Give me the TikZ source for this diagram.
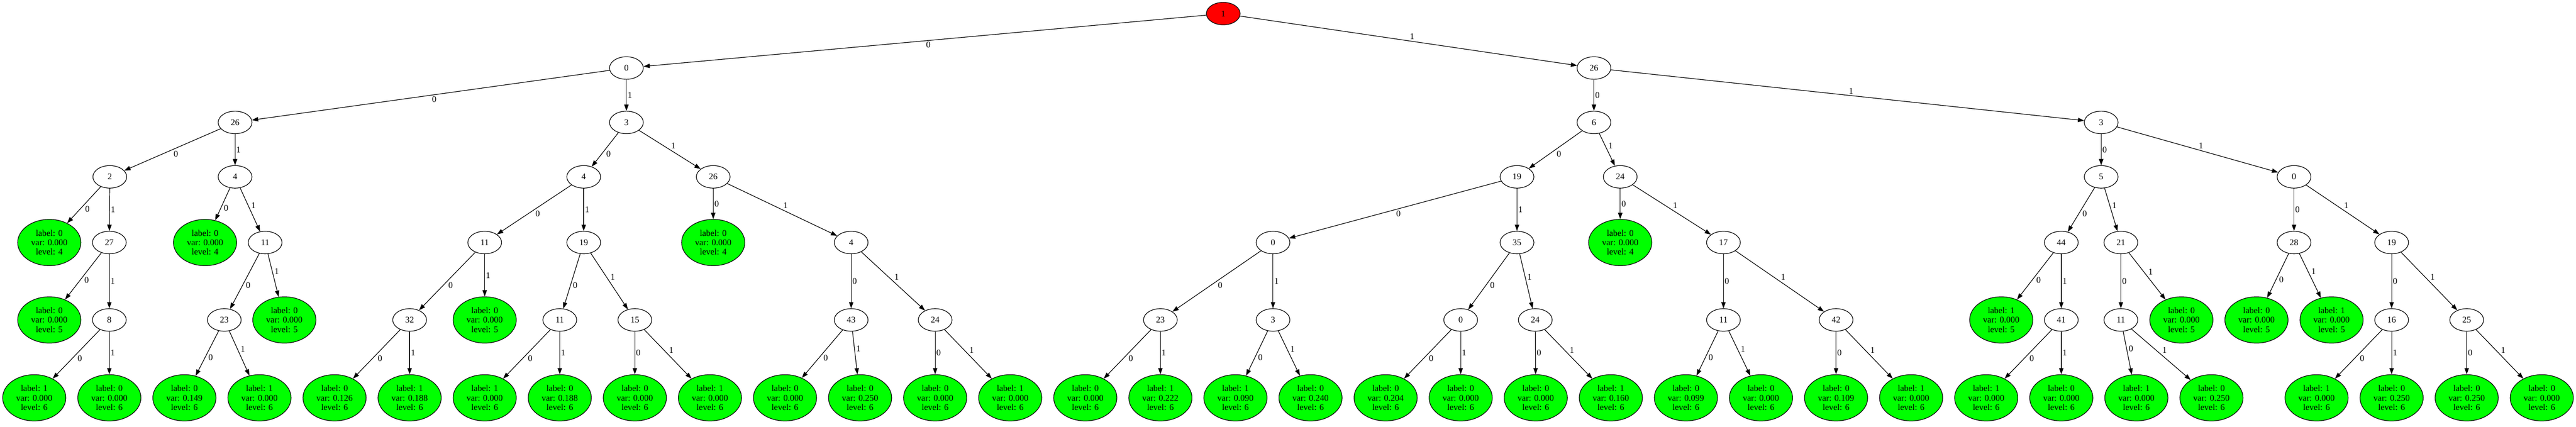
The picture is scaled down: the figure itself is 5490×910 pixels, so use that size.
\documentclass[tikz,border=0pt]{standalone}
\usepackage{fontspec}
\setmainfont{Liberation Serif}
\usetikzlibrary{shapes.geometric,arrows.meta}

\definecolor{leafgreen}{RGB}{0,255,0}
\definecolor{rootred}{RGB}{255,0,0}
\newcommand{\treefont}{\fontsize{14}{15}\selectfont}

\tikzset{
  split/.style={ellipse, draw, line width=1pt, fill=white, minimum width=54pt, minimum height=36pt, inner sep=0pt, font=\treefont},
  rootnode/.style={split, fill=rootred},
  leaf/.style={ellipse, draw, line width=1pt, fill=leafgreen, minimum width=101pt, minimum height=74pt, inner sep=0pt, align=center, font=\treefont},
  edge/.style={-{Triangle[length=10pt,width=7pt]}, line width=1pt},
  bit/.style={auto, inner sep=1.5pt, font=\treefont}
}

\begin{document}
\begin{tikzpicture}[x=0.75pt, y=-0.75pt]
  \useasboundingbox (0,0) rectangle (5490,910);

  % Root and upper splits
  \node[rootnode] (n) at (2607,29) {1};
  \node[split] (n0) at (1335,145) {0};
  \node[split] (n1) at (3397,145) {26};
  \node[split] (n00) at (501,261) {26};
  \node[split] (n01) at (1335,261) {3};
  \node[split] (n10) at (3397,261) {6};
  \node[split] (n11) at (4478,261) {3};

  % Rank 3
  \node[split] (n000) at (234,377) {2};
  \node[split] (n001) at (501,377) {4};
  \node[split] (n010) at (1244,377) {4};
  \node[split] (n011) at (1520,377) {26};
  \node[split] (n100) at (3233,377) {19};
  \node[split] (n101) at (3453,377) {24};
  \node[split] (n110) at (4478,377) {5};
  \node[split] (n111) at (4889,377) {0};

  % Rank 4
  \node[leaf] (n0000) at (105,517) {label: 0\\var: 0.000\\level: 4};
  \node[split] (n0001) at (233,517) {27};
  \node[leaf] (n0010) at (437,517) {label: 0\\var: 0.000\\level: 4};
  \node[split] (n0011) at (565,517) {11};
  \node[split] (n0100) at (1033,517) {11};
  \node[split] (n0101) at (1244,517) {19};
  \node[leaf] (n0110) at (1520,517) {label: 0\\var: 0.000\\level: 4};
  \node[split] (n0111) at (1814,517) {4};
  \node[split] (n1000) at (2713,517) {0};
  \node[split] (n1001) at (3233,517) {35};
  \node[leaf] (n1010) at (3453,517) {label: 0\\var: 0.000\\level: 4};
  \node[split] (n1011) at (3673,517) {17};
  \node[split] (n1100) at (4393,517) {44};
  \node[split] (n1101) at (4520,517) {21};
  \node[split] (n1110) at (4889,517) {28};
  \node[split] (n1111) at (5097,517) {19};

  % Rank 5
  \node[leaf] (n00010) at (105,682) {label: 0\\var: 0.000\\level: 5};
  \node[split] (n00011) at (233,682) {8};
  \node[split] (n00110) at (478,682) {23};
  \node[leaf] (n00111) at (606,682) {label: 0\\var: 0.000\\level: 5};
  \node[split] (n01000) at (873,682) {32};
  \node[leaf] (n01001) at (1033,682) {label: 0\\var: 0.000\\level: 5};
  \node[split] (n01010) at (1193,682) {11};
  \node[split] (n01011) at (1353,682) {15};
  \node[split] (n01110) at (1814,682) {43};
  \node[split] (n01111) at (1993,682) {24};
  \node[split] (n10000) at (2473,682) {23};
  \node[split] (n10001) at (2713,682) {3};
  \node[split] (n10010) at (3113,682) {0};
  \node[split] (n10011) at (3272,682) {24};
  \node[split] (n10110) at (3673,682) {11};
  \node[split] (n10111) at (3913,682) {42};
  \node[leaf] (n11000) at (4265,682) {label: 1\\var: 0.000\\level: 5};
  \node[split] (n11001) at (4393,682) {41};
  \node[split] (n11010) at (4520,682) {11};
  \node[leaf] (n11011) at (4649,682) {label: 0\\var: 0.000\\level: 5};
  \node[leaf] (n11100) at (4809,682) {label: 0\\var: 0.000\\level: 5};
  \node[leaf] (n11101) at (4969,682) {label: 1\\var: 0.000\\level: 5};
  \node[split] (n11110) at (5097,682) {16};
  \node[split] (n11111) at (5257,682) {25};

  % Rank 6 leaves
  \node[leaf] (n000110) at (73,848) {label: 1\\var: 0.000\\level: 6};
  \node[leaf] (n000111) at (233,848) {label: 0\\var: 0.000\\level: 6};
  \node[leaf] (n001100) at (393,848) {label: 0\\var: 0.149\\level: 6};
  \node[leaf] (n001101) at (553,848) {label: 1\\var: 0.000\\level: 6};
  \node[leaf] (n010000) at (713,848) {label: 0\\var: 0.126\\level: 6};
  \node[leaf] (n010001) at (873,848) {label: 1\\var: 0.188\\level: 6};
  \node[leaf] (n010100) at (1033,848) {label: 1\\var: 0.000\\level: 6};
  \node[leaf] (n010101) at (1193,848) {label: 0\\var: 0.188\\level: 6};
  \node[leaf] (n010110) at (1353,848) {label: 0\\var: 0.000\\level: 6};
  \node[leaf] (n010111) at (1513,848) {label: 1\\var: 0.000\\level: 6};
  \node[leaf] (n011100) at (1673,848) {label: 0\\var: 0.000\\level: 6};
  \node[leaf] (n011101) at (1833,848) {label: 0\\var: 0.250\\level: 6};
  \node[leaf] (n011110) at (1993,848) {label: 0\\var: 0.000\\level: 6};
  \node[leaf] (n011111) at (2153,848) {label: 1\\var: 0.000\\level: 6};
  \node[leaf] (n100000) at (2313,848) {label: 0\\var: 0.000\\level: 6};
  \node[leaf] (n100001) at (2473,848) {label: 1\\var: 0.222\\level: 6};
  \node[leaf] (n100010) at (2633,848) {label: 1\\var: 0.090\\level: 6};
  \node[leaf] (n100011) at (2793,848) {label: 0\\var: 0.240\\level: 6};
  \node[leaf] (n100100) at (2953,848) {label: 0\\var: 0.204\\level: 6};
  \node[leaf] (n100101) at (3113,848) {label: 0\\var: 0.000\\level: 6};
  \node[leaf] (n100110) at (3273,848) {label: 0\\var: 0.000\\level: 6};
  \node[leaf] (n100111) at (3433,848) {label: 1\\var: 0.160\\level: 6};
  \node[leaf] (n101100) at (3593,848) {label: 0\\var: 0.099\\level: 6};
  \node[leaf] (n101101) at (3753,848) {label: 0\\var: 0.000\\level: 6};
  \node[leaf] (n101110) at (3913,848) {label: 0\\var: 0.109\\level: 6};
  \node[leaf] (n101111) at (4073,848) {label: 1\\var: 0.000\\level: 6};
  \node[leaf] (n110010) at (4233,848) {label: 1\\var: 0.000\\level: 6};
  \node[leaf] (n110011) at (4393,848) {label: 0\\var: 0.000\\level: 6};
  \node[leaf] (n110100) at (4553,848) {label: 1\\var: 0.000\\level: 6};
  \node[leaf] (n110101) at (4713,848) {label: 0\\var: 0.250\\level: 6};
  \node[leaf] (n111100) at (4937,848) {label: 1\\var: 0.000\\level: 6};
  \node[leaf] (n111101) at (5097,848) {label: 0\\var: 0.250\\level: 6};
  \node[leaf] (n111110) at (5257,848) {label: 0\\var: 0.250\\level: 6};
  \node[leaf] (n111111) at (5417,848) {label: 0\\var: 0.000\\level: 6};

  % Branches: every split has a 0 child and a 1 child
  \foreach \p in {n, n0, n1, n00, n01, n10, n11,
                  n000, n001, n010, n011, n100, n101, n110, n111,
                  n0001, n0011, n0100, n0101, n0111, n1000, n1001, n1011,
                  n1100, n1101, n1110, n1111,
                  n00011, n00110, n01000, n01010, n01011, n01110, n01111,
                  n10000, n10001, n10010, n10011, n10110, n10111,
                  n11001, n11010, n11110, n11111} {
    \draw[edge] (\p) -- node[bit] {0} (\p0);
    \draw[edge] (\p) -- node[bit] {1} (\p1);
  }

\end{tikzpicture}
\end{document}
